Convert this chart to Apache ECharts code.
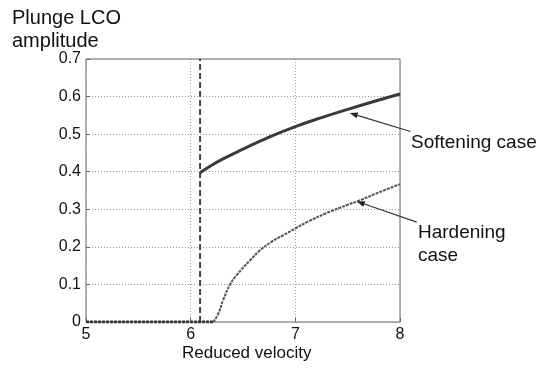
<!DOCTYPE html>
<html>
<head>
<meta charset="utf-8">
<script src="https://cdn.jsdelivr.net/npm/echarts@6/dist/echarts.min.js"></script>
<style>
  html, body { margin: 0; padding: 0; background: #fff; }
  #chart { width: 554px; height: 372px; }
</style>
</head>
<body>
<div id="chart"></div>
<script>
// Reduced velocity (x) and plunge LCO amplitude (y) for both nonlinearity cases
const softVelocity  = [6.09, 6.2, 6.3, 6.5, 6.75, 7.0, 7.25, 7.5, 7.75, 8.0];
const softAmplitude = [0.397, 0.417, 0.433, 0.46, 0.492, 0.52, 0.544, 0.566, 0.587, 0.607];

// Stable region: zero amplitude below onset
const zeroVelocity  = [5.0, 6.217];
const zeroAmplitude = [0, 0];

const hardVelocity  = [6.217, 6.265, 6.31, 6.377, 6.44, 6.57, 6.66, 6.775, 6.886, 7.0, 7.12, 7.3, 7.5, 7.6, 7.8, 8.0];
const hardAmplitude = [0, 0.023, 0.058, 0.1, 0.125, 0.165, 0.19, 0.214, 0.231, 0.249, 0.267, 0.29, 0.312, 0.322, 0.345, 0.367];

// Flutter onset marker (vertical dashed line)
const onsetVelocity = 6.09;

const xTicks = [5, 6, 7, 8];
const yTicks = [0, 0.1, 0.2, 0.3, 0.4, 0.5, 0.6, 0.7];

// Annotation arrows: [text anchor, point on curve], in data units
const softArrow = [[8.1, 0.507], [7.52, 0.556]];
const hardArrow = [[8.16, 0.266], [7.587, 0.321]];

const FONT = 'Liberation Sans, Arial, sans-serif';
const chart = echarts.init(document.getElementById('chart'), null, { renderer: 'canvas' });

const zip = (a, b) => a.map((v, i) => [v, b[i]]);

const option = {
  animation: false,
  backgroundColor: '#fff',
  grid: {
    left: 86, right: 154, top: 59, bottom: 50,
    show: true, borderColor: '#666', borderWidth: 1, backgroundColor: 'transparent'
  },
  xAxis: {
    type: 'value', min: xTicks[0], max: xTicks[xTicks.length - 1], interval: 1,
    axisLine: { show: false },
    axisTick: { show: true, inside: true, length: 4, lineStyle: { color: '#666' } },
    axisLabel: { color: '#111', fontFamily: FONT, fontSize: 16, margin: 5,
      formatter: v => xTicks.includes(v) ? String(v) : '' },
    splitLine: { show: true, lineStyle: { color: '#999', type: [1, 2], width: 1 } }
  },
  yAxis: {
    type: 'value', min: yTicks[0], max: yTicks[yTicks.length - 1], interval: 0.1,
    axisLine: { show: false },
    axisTick: { show: true, inside: true, length: 4, lineStyle: { color: '#666' } },
    axisLabel: { color: '#111', fontFamily: FONT, fontSize: 16, margin: 5,
      formatter: v => { const t = yTicks.find(y => Math.abs(y - v) < 1e-9); return t === 0 ? '0' : (t !== undefined ? t.toFixed(1) : ''); } },
    splitLine: { show: true, lineStyle: { color: '#999', type: [1, 2], width: 1 } }
  },
  series: [
    {
      name: 'Onset', type: 'line', symbol: 'none', silent: true,
      data: [[onsetVelocity, yTicks[0]], [onsetVelocity, yTicks[yTicks.length - 1]]],
      lineStyle: { color: '#444', width: 2, type: [6, 3] }
    },
    {
      name: 'Stable', type: 'line', symbol: 'none',
      data: zip(zeroVelocity, zeroAmplitude),
      lineStyle: { color: '#333', width: 3, type: [3, 1] }
    },
    {
      name: 'Hardening case', type: 'line', symbol: 'none', smooth: true,
      data: zip(hardVelocity, hardAmplitude),
      lineStyle: { color: '#555', width: 2, type: [3, 1] }
    },
    {
      name: 'Softening case', type: 'line', symbol: 'none', smooth: true,
      data: zip(softVelocity, softAmplitude),
      lineStyle: { color: '#3a3a3a', width: 3 }
    }
  ]
};
chart.setOption(option);

// Arrow from annotation text to a point on the curve
function arrow(pair) {
  const p0 = chart.convertToPixel({ gridIndex: 0 }, pair[0]);
  const p1 = chart.convertToPixel({ gridIndex: 0 }, pair[1]);
  const dx = p1[0] - p0[0], dy = p1[1] - p0[1];
  const len = Math.hypot(dx, dy), ux = dx / len, uy = dy / len;
  const hl = 8, hw = 3;
  const bx = p1[0] - ux * hl, by = p1[1] - uy * hl;
  return [
    { type: 'line', shape: { x1: p0[0], y1: p0[1], x2: bx, y2: by },
      style: { stroke: '#333', lineWidth: 1.2 }, z: 10 },
    { type: 'polygon', shape: { points: [[p1[0], p1[1]], [bx - uy * hw, by + ux * hw], [bx + uy * hw, by - ux * hw]] },
      style: { fill: '#222' }, z: 10 }
  ];
}

const textStyle = (s, size) => ({ text: s, fill: '#111', font: size + 'px ' + FONT });

chart.setOption({
  graphic: [
    ...arrow(softArrow),
    ...arrow(hardArrow),
    { type: 'text', left: 12, top: 7, style: Object.assign(textStyle('Plunge LCO\namplitude', 20), { lineHeight: 23 }) },
    { type: 'text', left: 182, top: 345, style: textStyle('Reduced velocity', 17) },
    { type: 'text', left: 411, top: 133, style: textStyle('Softening case', 19) },
    { type: 'text', left: 418, top: 221, style: Object.assign(textStyle('Hardening\ncase', 19), { lineHeight: 23 }) }
  ]
});
</script>
</body>
</html>
